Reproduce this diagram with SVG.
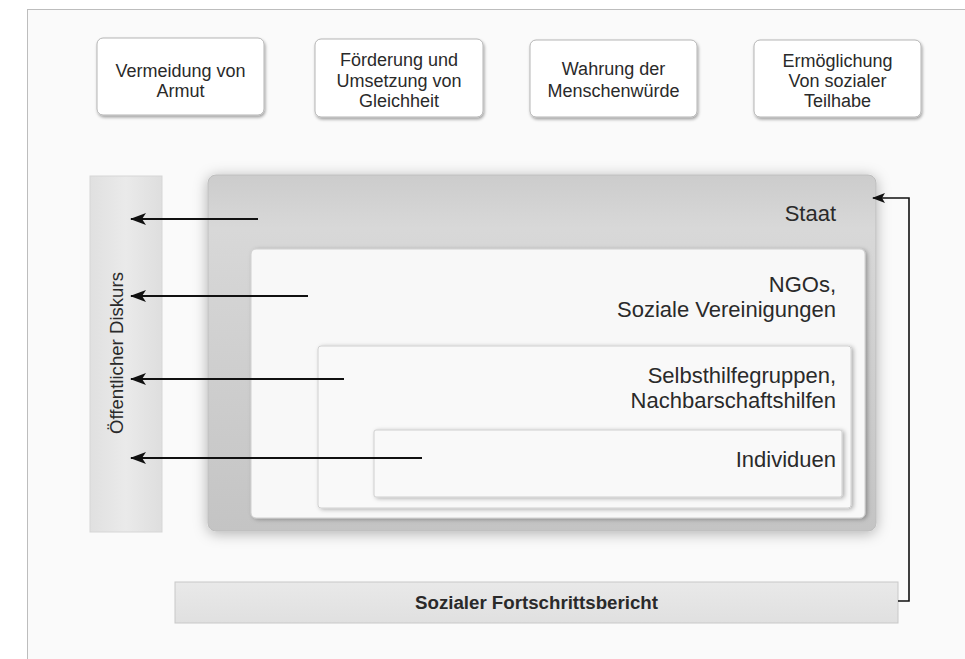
<svg xmlns="http://www.w3.org/2000/svg" width="965" height="659" viewBox="0 0 965 659">
  <defs>
    <style>
      .t { font-family: "Liberation Sans", Arial, sans-serif; fill: #2a2a2a; }
      .top { font-size: 18px; text-anchor: middle; }
      .lbl { font-size: 22px; text-anchor: end; }
      .topbox { fill: #ffffff; stroke: #b5b5b5; stroke-width: 1; filter: url(#sh); }
      .arr { stroke: #111; stroke-width: 2.2; fill: none; marker-end: url(#ah); }
    </style>
    <filter id="sh" x="-10%" y="-10%" width="125%" height="130%">
      <feDropShadow dx="1" dy="2" stdDeviation="1.5" flood-color="#000" flood-opacity="0.35"/>
    </filter>
    <filter id="big" x="-10%" y="-10%" width="120%" height="125%">
      <feDropShadow dx="0" dy="2" stdDeviation="7" flood-color="#000" flood-opacity="0.3"/>
    </filter>
    <filter id="sh2" x="-10%" y="-10%" width="125%" height="130%">
      <feDropShadow dx="2" dy="1" stdDeviation="2" flood-color="#000" flood-opacity="0.3"/>
    </filter>
    <linearGradient id="gStaat" x1="0" y1="0" x2="0" y2="1">
      <stop offset="0" stop-color="#cccccc"/>
      <stop offset="0.15" stop-color="#d8d8d8"/>
      <stop offset="1" stop-color="#c4c4c4"/>
    </linearGradient>
    <linearGradient id="gSide" x1="0" y1="0" x2="1" y2="0">
      <stop offset="0" stop-color="#e0e0e0"/>
      <stop offset="0.5" stop-color="#eaeaea"/>
      <stop offset="1" stop-color="#dedede"/>
    </linearGradient>
    <linearGradient id="gBar" x1="0" y1="0" x2="0" y2="1">
      <stop offset="0" stop-color="#e9e9e9"/>
      <stop offset="1" stop-color="#e0e0e0"/>
    </linearGradient>
    <marker id="ah" markerWidth="16" markerHeight="12" refX="15" refY="6" orient="auto" markerUnits="userSpaceOnUse">
      <path d="M0,0 L16,6 L0,12 L4,6 Z" fill="#111"/>
    </marker>
    <marker id="ah2" markerWidth="13" markerHeight="10" refX="12" refY="5" orient="auto" markerUnits="userSpaceOnUse">
      <path d="M0,0 L13,5 L0,10 L3,5 Z" fill="#111"/>
    </marker>
  </defs>

  <rect x="0" y="0" width="965" height="659" fill="#ffffff"/>
  <rect x="27.5" y="9.5" width="1000" height="700" fill="#fafafa" stroke="#bdbdbd" stroke-width="1"/>

  <g id="goal1">
    <rect class="topbox" x="97" y="38" width="167" height="77" rx="6"/>
    <text class="t top" x="180.5" y="77">Vermeidung von</text>
    <text class="t top" x="180.5" y="97">Armut</text>
  </g>
  <g id="goal2">
    <rect class="topbox" x="315" y="39" width="168" height="78" rx="6"/>
    <text class="t top" x="399" y="66">Förderung und</text>
    <text class="t top" x="399" y="87">Umsetzung von</text>
    <text class="t top" x="399" y="107">Gleichheit</text>
  </g>
  <g id="goal3">
    <rect class="topbox" x="530" y="40" width="167" height="77" rx="6"/>
    <text class="t top" x="613.5" y="75">Wahrung der</text>
    <text class="t top" x="613.5" y="97">Menschenwürde</text>
  </g>
  <g id="goal4">
    <rect class="topbox" x="754" y="40" width="167" height="77" rx="6"/>
    <text class="t top" x="837.5" y="67">Ermöglichung</text>
    <text class="t top" x="837.5" y="87">Von sozialer</text>
    <text class="t top" x="837.5" y="107">Teilhabe</text>
  </g>

  <g id="diskurs">
    <rect x="90" y="176" width="72" height="356" fill="url(#gSide)" stroke="#d6d6d6" stroke-width="1"/>
    <text class="t" x="123" y="353" font-size="18.6" text-anchor="middle" transform="rotate(-90 123 353)">Öffentlicher Diskurs</text>
  </g>

  <g id="staat">
    <rect x="208" y="175" width="668" height="356" rx="8" fill="url(#gStaat)" stroke="#bdbdbd" stroke-width="1" filter="url(#big)"/>
    <text class="t lbl" x="836" y="221">Staat</text>
  </g>
  <g id="ngos">
    <rect x="251" y="249" width="614" height="269" rx="5" fill="#f8f8f8" stroke="#d0d0d0" stroke-width="1" filter="url(#sh2)"/>
    <text class="t lbl" x="836" y="292">NGOs,</text>
    <text class="t lbl" x="836" y="317">Soziale Vereinigungen</text>
  </g>
  <g id="selbsthilfe">
    <rect x="318" y="346" width="533" height="162" rx="3" fill="#f9f9f9" stroke="#d0d0d0" stroke-width="1" filter="url(#sh2)"/>
    <text class="t lbl" x="836" y="383">Selbsthilfegruppen,</text>
    <text class="t lbl" x="836" y="408">Nachbarschaftshilfen</text>
  </g>
  <g id="individuen">
    <rect x="374" y="430" width="468" height="67" rx="2" fill="#f9f9f9" stroke="#cfcfcf" stroke-width="1" filter="url(#sh2)"/>
    <text class="t lbl" x="836" y="467">Individuen</text>
  </g>

  <g id="bericht">
    <rect x="175" y="582" width="723" height="41" fill="url(#gBar)" stroke="#c8c8c8" stroke-width="1"/>
    <text class="t" x="536.5" y="609" font-size="18.7" font-weight="bold" text-anchor="middle" fill="#1e1e1e">Sozialer Fortschrittsbericht</text>
  </g>

  <g id="connectors">
    <line class="arr" x1="258" y1="219" x2="131" y2="219"/>
    <line class="arr" x1="308" y1="296" x2="131" y2="296"/>
    <line class="arr" x1="344" y1="379" x2="131" y2="379"/>
    <line class="arr" x1="422" y1="458" x2="131" y2="458"/>
    <path d="M898 601 H909 V198 H873" fill="none" stroke="#111" stroke-width="1.6" marker-end="url(#ah2)"/>
  </g>
</svg>
